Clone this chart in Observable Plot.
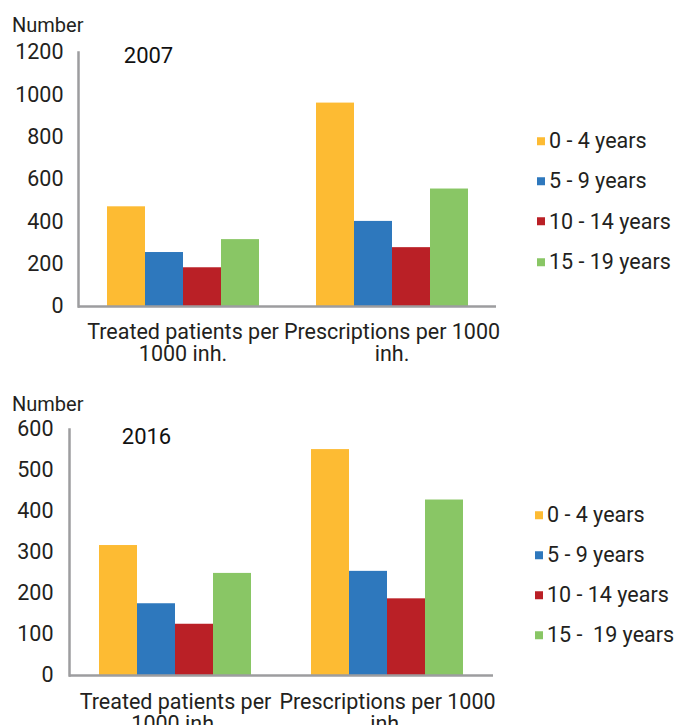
<!DOCTYPE html>
<html>
<head>
<meta charset="utf-8">
<script src="https://cdn.jsdelivr.net/npm/d3@7"></script>
<script src="https://cdn.jsdelivr.net/npm/@observablehq/plot@0.6"></script>
<style>
  html, body { margin: 0; padding: 0; background: #fff; }
  #wrap { position: relative; width: 678px; height: 725px; overflow: hidden; font-family: Roboto, "Open Sans", sans-serif; color: #231f20; }
  .panel { position: absolute; left: 0; }
  .ylab { position: absolute; font-size: 20px; line-height: 1; }
  .legend { position: absolute; }
  .legend .row { position: absolute; left: 0; display: flex; align-items: center; white-space: pre; font-size: 21.5px; line-height: 1; transform: translateY(-50%); }
  .legend .sw { width: 8px; height: 8px; margin-right: 4px; }
</style>
</head>
<body>
<div id="wrap"></div>
<script>
// ---- data ----
const categories = ["Treated patients per 1000 inh.", "Prescriptions per 1000 inh."];
const categoryLabels = ["Treated patients per\n1000 inh.", "Prescriptions per 1000\ninh."];
const ageGroups = ["0 - 4 years", "5 - 9 years", "10 - 14 years", "15 - 19 years"];
const legendLabels2016 = ["0 - 4 years", "5 - 9 years", "10 - 14 years", "15 -  19 years"];
const colors = ["#FDBB33", "#2E78BD", "#BA2026", "#89C665"];

const treated2007 = [471, 255, 183, 316];
const prescriptions2007 = [961, 402, 278, 555];
const treated2016 = [317, 175, 125, 249];
const prescriptions2016 = [551, 254, 187, 428];

const yTicks2007 = [0, 200, 400, 600, 800, 1000, 1200];
const yTicks2016 = [0, 100, 200, 300, 400, 500, 600];
const yLabel = "Number";

function table(treated, prescriptions) {
  const rows = [];
  ageGroups.forEach((a, i) => rows.push({category: categories[0], age: a, value: treated[i]}));
  ageGroups.forEach((a, i) => rows.push({category: categories[1], age: a, value: prescriptions[i]}));
  return rows;
}

const wrap = document.getElementById("wrap");
const axisColor = "#9d9d9f";

function makeChart(cfg) {
  const panel = document.createElement("div");
  panel.className = "panel";
  panel.style.top = cfg.top + "px";
  const data = table(cfg.treated, cfg.prescriptions);
  const svg = Plot.plot({
    width: 678,
    height: cfg.height,
    marginTop: cfg.marginTop,
    marginBottom: cfg.marginBottom,
    marginLeft: cfg.marginLeft,
    marginRight: cfg.marginRight,
    style: {fontFamily: "Roboto, 'Open Sans', sans-serif", fontSize: "21.5px", color: "#231f20", background: "transparent", overflow: "visible"},
    fx: {domain: categories, padding: 0, label: null, axis: null},
    x: {domain: ageGroups, paddingInner: 0, paddingOuter: cfg.xPadOuter, axis: null},
    y: {domain: [0, cfg.yTicks[cfg.yTicks.length - 1]], label: null, axis: null},
    color: {domain: ageGroups, range: colors},
    marks: [
      Plot.barY(data, {fx: "category", x: "age", y: "value", fill: "age"}),
      Plot.ruleY([0], {stroke: axisColor, strokeWidth: 2.5}),
      Plot.frame({anchor: "left", facetAnchor: "left", stroke: axisColor, strokeWidth: 2.5}),
      Plot.axisY({ticks: cfg.yTicks, tickSize: 0, tickPadding: cfg.yTickPadding, label: null, fontSize: 21.5,
        tickFormat: d => String(d)}),
      Plot.axisFx({anchor: "bottom", tickSize: 0, tickPadding: cfg.fxTickPadding, label: null, lineHeight: 1.05, fontSize: 21.5,
        tickFormat: d => categoryLabels[categories.indexOf(d)]}),
      Plot.text([{category: categories[0], label: cfg.title}], {
        fx: "category", text: "label", frameAnchor: "top-left", textAnchor: "middle",
        dx: cfg.titleDx, dy: cfg.titleDy, fontSize: 22, fill: "#111"
      })
    ]
  });
  panel.appendChild(svg);

  const yl = document.createElement("div");
  yl.className = "ylab";
  yl.textContent = yLabel;
  yl.style.left = cfg.yLabelX + "px";
  yl.style.top = cfg.yLabelY + "px";
  panel.appendChild(yl);

  const lg = document.createElement("div");
  lg.className = "legend";
  lg.style.left = cfg.legendX + "px";
  lg.style.top = "0px";
  cfg.legendLabels.forEach((lab, i) => {
    const row = document.createElement("div");
    row.className = "row";
    row.style.top = (cfg.legendY0 + i * cfg.legendStep) + "px";
    const sw = document.createElement("span");
    sw.className = "sw";
    sw.style.background = colors[i];
    const tx = document.createElement("span");
    tx.textContent = lab;
    row.appendChild(sw);
    row.appendChild(tx);
    lg.appendChild(row);
  });
  panel.appendChild(lg);
  wrap.appendChild(panel);
}

makeChart({
  top: 0, height: 370, marginTop: 52, marginBottom: 64, marginLeft: 78, marginRight: 182,
  xPadOuter: 0.714, treated: treated2007, prescriptions: prescriptions2007,
  yTicks: yTicks2007, yTickPadding: 15, fxTickPadding: 16,
  title: "2007", titleDx: 70, titleDy: -5,
  yLabelX: 12, yLabelY: 15,
  legendLabels: ageGroups, legendX: 537, legendY0: 141, legendStep: 40.3
});

makeChart({
  top: 380, height: 345, marginTop: 49, marginBottom: 50, marginLeft: 68, marginRight: 185,
  xPadOuter: 0.74, treated: treated2016, prescriptions: prescriptions2016,
  yTicks: yTicks2016, yTickPadding: 16, fxTickPadding: 17,
  title: "2016", titleDx: 77, titleDy: -1,
  yLabelX: 12, yLabelY: 14,
  legendLabels: legendLabels2016, legendX: 535, legendY0: 135, legendStep: 40
});
</script>
</body>
</html>
